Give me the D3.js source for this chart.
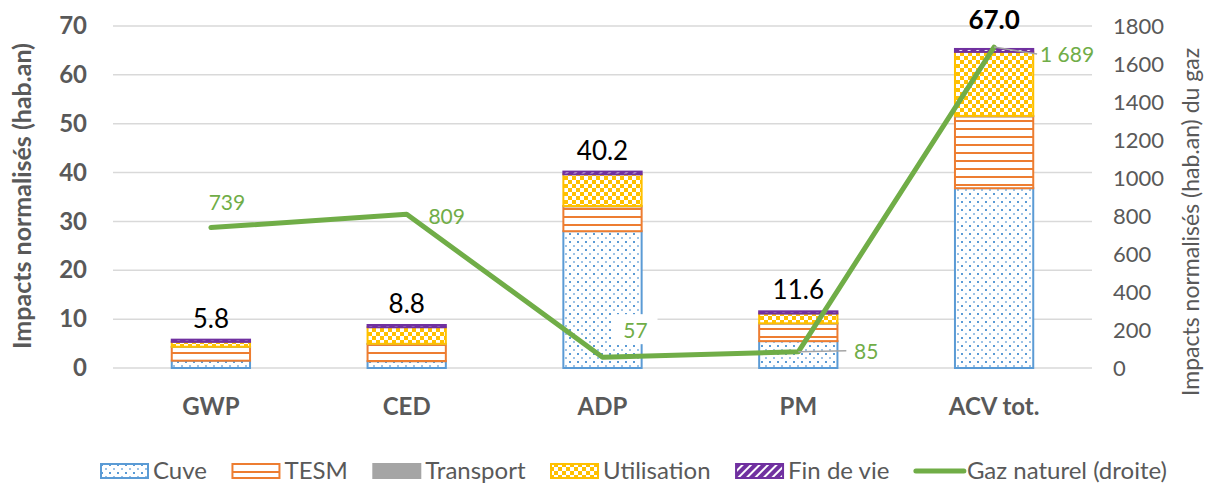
<!DOCTYPE html>
<html>
<head>
<meta charset="utf-8">
<script src="https://cdn.jsdelivr.net/npm/d3@7"></script>
<style>
  body { margin: 0; background: #fff; }
  text { font-family: Lato, "Open Sans", sans-serif; }
</style>
</head>
<body>
<div id="chart"></div>
<script>
// categories and series
var categories = ["GWP", "CED", "ADP", "PM", "ACV tot."];
var seriesNames = ["Cuve", "TESM", "Transport", "Utilisation", "Fin de vie"];
var cuve        = [1.5, 1.4, 28.0, 5.5, 36.8];
var tesm        = [2.8, 3.5, 5.1, 3.6, 14.7];
var transport   = [0.05, 0.05, 0.05, 0.05, 0.1];
var utilisation = [1.0, 3.4, 6.5, 2.0, 13.1];
var finDeVie    = [0.45, 0.45, 0.55, 0.45, 0.6];
var totals      = [5.8, 8.8, 40.2, 11.6, 67.0];
var gazNaturel  = [739, 809, 57, 85, 1689];
var gazName = "Gaz naturel (droite)";
var leftTicks  = [0, 10, 20, 30, 40, 50, 60, 70];
var rightTicks = [0, 200, 400, 600, 800, 1000, 1200, 1400, 1600, 1800];

var W = 1210, H = 484;
var plot = {left: 113, right: 1092, top: 26, bottom: 368};

var svg = d3.select("#chart").append("svg")
    .attr("width", W).attr("height", H);

// fill patterns
var defs = svg.append("defs");

var pCuve = defs.append("pattern").attr("id", "p-cuve")
    .attr("patternUnits", "userSpaceOnUse").attr("width", 8).attr("height", 8);
pCuve.append("rect").attr("width", 8).attr("height", 8).attr("fill", "#fff");
pCuve.append("rect").attr("x", 1).attr("y", 1).attr("width", 2).attr("height", 2).attr("fill", "#5B9BD5");
pCuve.append("rect").attr("x", 5).attr("y", 5).attr("width", 2).attr("height", 2).attr("fill", "#9DC3E6");

var pTesm = defs.append("pattern").attr("id", "p-tesm")
    .attr("patternUnits", "userSpaceOnUse").attr("width", 8).attr("height", 8);
pTesm.append("rect").attr("width", 8).attr("height", 8).attr("fill", "#fff");
pTesm.append("rect").attr("y", 0).attr("width", 8).attr("height", 2).attr("fill", "#ED7D31");

var pUtil = defs.append("pattern").attr("id", "p-util")
    .attr("patternUnits", "userSpaceOnUse").attr("width", 8).attr("height", 8);
pUtil.append("rect").attr("width", 8).attr("height", 8).attr("fill", "#FFC000");
pUtil.append("rect").attr("x", 0).attr("y", 0).attr("width", 4).attr("height", 4).attr("fill", "#fff");
pUtil.append("rect").attr("x", 4).attr("y", 4).attr("width", 4).attr("height", 4).attr("fill", "#fff");

var pFin = defs.append("pattern").attr("id", "p-fin")
    .attr("patternUnits", "userSpaceOnUse").attr("width", 6).attr("height", 6)
    .attr("patternTransform", "rotate(45)");
pFin.append("rect").attr("width", 6).attr("height", 6).attr("fill", "#7030A0");
pFin.append("rect").attr("width", 2).attr("height", 6).attr("fill", "#fff");

var fills   = ["url(#p-cuve)", "url(#p-tesm)", "#A5A5A5", "url(#p-util)", "url(#p-fin)"];
var strokes = ["#5B9BD5", "#ED7D31", "#A5A5A5", "#FFC000", "#7030A0"];

// scales
var x = d3.scaleBand().domain(categories)
    .range([plot.left, plot.right])
    .paddingInner(0.59).paddingOuter(0.295);
var yL = d3.scaleLinear().domain([0, 70]).range([plot.bottom, plot.top]);
var yR = d3.scaleLinear().domain([0, 1800]).range([plot.bottom, plot.top]);

// gridlines
svg.append("g").selectAll("line").data(leftTicks).enter().append("line")
    .attr("x1", plot.left).attr("x2", plot.right)
    .attr("y1", function(d) { return yL(d); }).attr("y2", function(d) { return yL(d); })
    .attr("stroke", "#D9D9D9").attr("stroke-width", 1.5);

// left axis
var leftAxis = svg.append("g")
    .attr("transform", "translate(" + (plot.left - 26) + ",0)")
    .call(d3.axisLeft(yL).tickValues(leftTicks).tickSize(0).tickPadding(0));
leftAxis.select(".domain").remove();
leftAxis.selectAll("text")
    .attr("fill", "#595959").style("font-size", "24px").style("font-weight", "bold");

// right axis
var rightAxis = svg.append("g")
    .attr("transform", "translate(" + (plot.right + 21) + ",0)")
    .call(d3.axisRight(yR).tickValues(rightTicks).tickSize(0).tickPadding(0).tickFormat(d3.format("d")));
rightAxis.select(".domain").remove();
rightAxis.selectAll("text")
    .attr("fill", "#595959").style("font-size", "22px");

// category axis
var bottomAxis = svg.append("g")
    .attr("transform", "translate(0," + plot.bottom + ")")
    .call(d3.axisBottom(x).tickSize(0).tickPadding(30));
bottomAxis.select(".domain").remove();
bottomAxis.selectAll("text")
    .attr("fill", "#595959").style("font-size", "24px").style("font-weight", "bold");

// axis titles
svg.append("text")
    .attr("transform", "translate(31,196) rotate(-90)")
    .attr("text-anchor", "middle")
    .attr("fill", "#595959").style("font-size", "25px").style("font-weight", "bold")
    .text("Impacts normalisés (hab.an)");
svg.append("text")
    .attr("transform", "translate(1199,222) rotate(-90)")
    .attr("text-anchor", "middle")
    .attr("fill", "#595959").style("font-size", "23px")
    .text("Impacts normalisés (hab.an) du gaz");

// stacked bars
var rows = categories.map(function(c, i) {
  return {cat: c, Cuve: cuve[i], TESM: tesm[i], Transport: transport[i],
          Utilisation: utilisation[i], "Fin de vie": finDeVie[i]};
});
var stacked = d3.stack().keys(seriesNames)(rows);

svg.append("g").selectAll("g").data(stacked).enter().append("g")
    .attr("fill", function(d, i) { return fills[i]; })
    .attr("stroke", function(d, i) { return strokes[i]; })
    .attr("stroke-width", 2)
  .selectAll("rect").data(function(d) { return d; }).enter().append("rect")
    .attr("x", function(d) { return x(d.data.cat) + 1; })
    .attr("width", x.bandwidth() - 2)
    .attr("y", function(d) { return yL(d[1]); })
    .attr("height", function(d) { return Math.max(0, yL(d[0]) - yL(d[1])); });

// total labels
svg.append("g").selectAll("text").data(categories).enter().append("text")
    .attr("x", function(d) { return x(d) + x.bandwidth() / 2; })
    .attr("y", function(d, i) { return yL(totals[i]) - 12; })
    .attr("text-anchor", "middle")
    .attr("fill", "#000")
    .style("font-size", "26px")
    .style("font-weight", function(d, i) { return i === categories.length - 1 ? "bold" : "normal"; })
    .text(function(d, i) { return d3.format(".1f")(totals[i]); });

// gas line
var cx = function(i) { return x(categories[i]) + x.bandwidth() / 2; };
var line = d3.line()
    .x(function(d, i) { return cx(i); })
    .y(function(d) { return yR(d); });

svg.append("path")
    .datum(gazNaturel)
    .attr("d", line)
    .attr("fill", "none")
    .attr("stroke", "#70AD47")
    .attr("stroke-width", 5)
    .attr("stroke-linejoin", "round")
    .attr("stroke-linecap", "round");

// line labels (offsets from point, and whether there is a leader line / white box)
var frLocale = d3.formatLocale({decimal: ",", thousands: " ", grouping: [3], currency: ["", " €"]});
var fmtGaz = frLocale.format(",d");
var labelOffsets = [[16, -18], [40, 10], [33, -19], [68, 7], [73, 15]];
var leaders = [false, false, false, true, true];
var boxes = [false, false, true, false, false];

var lab = svg.append("g");
gazNaturel.forEach(function(v, i) {
  var px = cx(i), py = yR(v);
  var lx = px + labelOffsets[i][0], ly = py + labelOffsets[i][1];
  if (leaders[i]) {
    lab.append("line")
      .attr("x1", px).attr("y1", py)
      .attr("x2", lx - (i === 4 ? 30 : 20)).attr("y2", ly - 8)
      .attr("stroke", "#A5A5A5").attr("stroke-width", 1.5);
  }
  if (boxes[i]) {
    lab.append("rect")
      .attr("x", lx - 24).attr("y", ly - 24)
      .attr("width", 46).attr("height", 30)
      .attr("fill", "#fff");
  }
  lab.append("text")
    .attr("x", lx).attr("y", ly)
    .attr("text-anchor", "middle")
    .attr("fill", "#70AD47")
    .style("font-size", "21px")
    .text(fmtGaz(v));
});

// legend: entries spread between the left and right edges of the legend box
var legendLeft = 100, legendRight = 1167;
var legend = svg.append("g").attr("transform", "translate(0,471)");
var entries = seriesNames.concat([gazName]).map(function(name, i) {
  var g = legend.append("g");
  if (i < seriesNames.length) {
    g.append("rect")
      .attr("x", 1).attr("y", -7).attr("width", 47).attr("height", 14)
      .attr("fill", fills[i]).attr("stroke", strokes[i]).attr("stroke-width", 2);
  } else {
    g.append("line")
      .attr("x1", 2).attr("x2", 50).attr("y1", 0).attr("y2", 0)
      .attr("stroke", "#70AD47").attr("stroke-width", 5).attr("stroke-linecap", "round");
  }
  var t = g.append("text")
    .attr("x", 53).attr("y", 8)
    .attr("fill", "#595959").style("font-size", "24px")
    .text(name);
  return {g: g, w: 53 + t.node().getComputedTextLength()};
});
var used = d3.sum(entries, function(e) { return e.w; });
var gap = (legendRight - legendLeft - used) / (entries.length - 1);
var lx0 = legendLeft;
entries.forEach(function(e) {
  e.g.attr("transform", "translate(" + lx0 + ",0)");
  lx0 += e.w + gap;
});
</script>
</body>
</html>
